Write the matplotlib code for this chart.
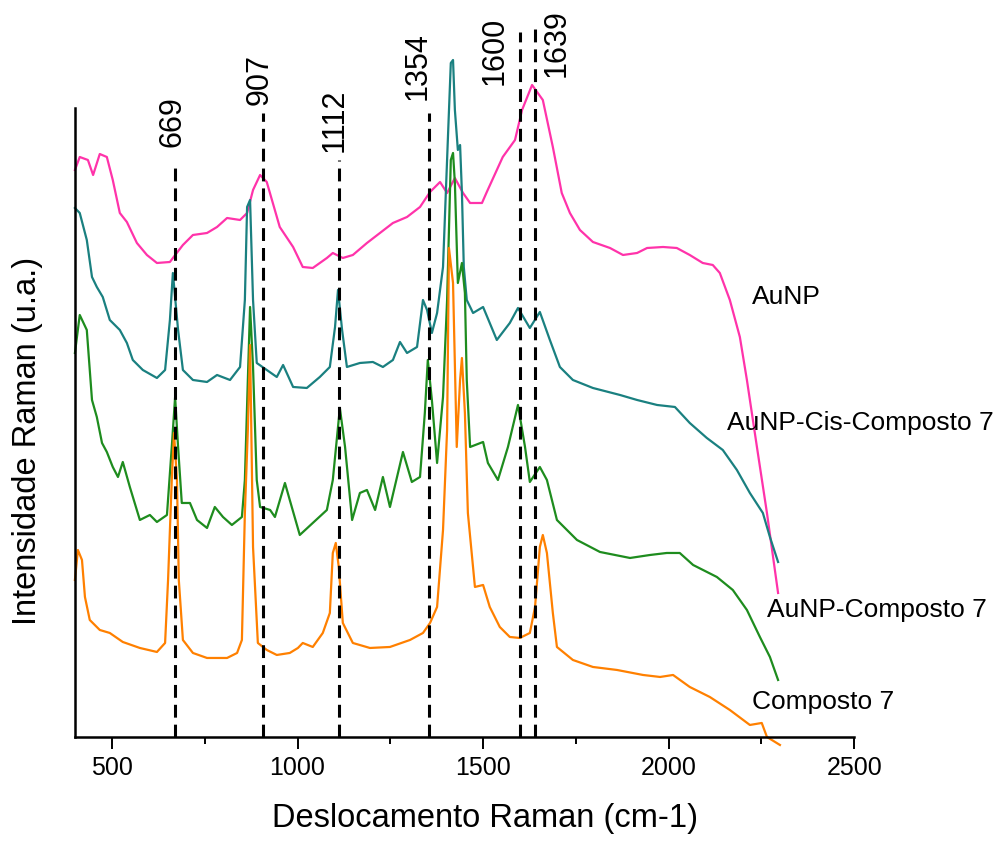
import matplotlib.pyplot as plt

plt.rcParams["font.family"] = ["Liberation Sans", "DejaVu Sans"]

# Raman spectra (x in cm-1, intensity in arbitrary units, already offset)
aunp_x = [400, 413, 435, 449, 467, 486, 502, 521, 540, 567, 594, 621, 656, 664, 691,
          718, 756, 783, 810, 845, 864, 880, 899, 917, 952, 988, 1014, 1041, 1079, 1095,
          1122, 1149, 1187, 1222, 1257, 1295, 1330, 1357, 1384, 1403, 1424, 1446, 1465,
          1497, 1510, 1553, 1586, 1605, 1632, 1661, 1688, 1712, 1734, 1761, 1796, 1842,
          1877, 1915, 1942, 1985, 2022, 2057, 2092, 2119, 2138, 2165, 2192, 2211, 2238,
          2265, 2295]
aunp_y = [567, 580, 577, 562, 583, 580, 557, 524, 515, 494, 482, 474, 475, 479, 492,
          502, 504, 510, 519, 517, 524, 547, 562, 555, 510, 490, 470, 469, 479, 484,
          479, 482, 494, 504, 514, 520, 530, 545, 555, 544, 559, 544, 534,
          534, 545, 580, 597, 627, 652, 637, 590, 544, 524, 507, 495, 489,
          482, 484, 489, 490, 489, 482, 474, 472, 464, 437, 400, 357, 290,
          224, 144]

cis_x = [400, 413, 432, 446, 459, 475, 494, 521, 540, 556, 583, 621, 643, 656, 664,
         678, 691, 718, 756, 783, 818, 845, 858, 864, 872, 880, 890, 917, 944, 961,
         988, 1025, 1060, 1087, 1101, 1109, 1120, 1133, 1168, 1203, 1230, 1257, 1276,
         1295, 1322, 1338, 1349, 1362, 1376, 1392, 1405, 1413, 1419, 1424, 1432, 1438,
         1443, 1448, 1456, 1473, 1500, 1537, 1572, 1594, 1626, 1653, 1680, 1707, 1742,
         1796, 1869, 1915, 1969, 2017, 2057, 2103, 2146, 2184, 2219, 2254, 2273, 2295]
cis_y = [529, 524, 497, 460, 450, 440, 417, 407, 394, 377, 367, 359, 367, 417, 464,
         407, 367, 357, 355, 362, 357, 370, 437, 530, 537, 437, 374, 367, 360, 372,
         350, 349, 360, 370, 410, 447, 407, 370, 374, 375, 370, 377, 395,
         384, 390, 437, 427, 404, 424, 470, 597, 674, 677, 627, 587, 592,
         544, 470, 437, 424, 430, 397, 414, 429, 409, 425, 397, 370, 357,
         349, 342, 337, 332, 330, 314, 299, 287, 267, 244, 224, 200, 175]

comp_np_x = [400, 413, 432, 446, 459, 473, 486, 502, 516, 529, 548, 575, 602, 621, 648,
             661, 670, 678, 688, 710, 729, 756, 777, 799, 823, 850, 858, 866, 872, 880,
             890, 899, 926, 939, 966, 979, 1006, 1041, 1079, 1095, 1114, 1128, 1147,
             1168, 1187, 1209, 1230, 1249, 1284, 1308, 1330, 1343, 1351, 1362, 1376,
             1392, 1403, 1413, 1419, 1424, 1432, 1443, 1451, 1456, 1465, 1500, 1513,
             1540, 1567, 1594, 1613, 1626, 1653, 1672, 1699, 1753, 1815, 1896, 1950,
             1995, 2030, 2066, 2130, 2173, 2211, 2246, 2273, 2295]
comp_np_y = [384, 422, 407, 337, 320, 294, 285, 270, 260, 275, 250, 217, 222, 215, 222,
             290, 340, 290, 234, 234, 217, 209, 230, 220, 212, 220, 257, 357, 430, 370,
             257, 230, 227, 220, 254, 237, 202, 214, 227, 257, 329, 290, 217,
             244, 247, 227, 260, 230, 285, 255, 260, 324, 377, 337, 274,
             340, 437, 577, 584, 554, 454, 474, 444, 357, 290, 295, 274,
             257, 290, 332, 290, 255, 270, 257, 217, 197, 185, 179, 182,
             184, 184, 172, 160, 147, 127, 100, 80, 57]

comp_x = [400, 408, 419, 427, 440, 467, 494, 529, 575, 621, 643, 651, 661, 667, 675,
          680, 691, 718, 756, 810, 837, 850, 858, 866, 872, 880, 893, 917, 944, 979,
          1001, 1014, 1041, 1068, 1087, 1095, 1103, 1111, 1122, 1149, 1195, 1249, 1303,
          1338, 1357, 1376, 1392, 1403, 1408, 1419, 1429, 1438, 1443, 1451, 1459, 1478,
          1500, 1518, 1545, 1572, 1599, 1626, 1640, 1653, 1661, 1672, 1688, 1699, 1742,
          1796, 1861, 1931, 1977, 2012, 2057, 2111, 2165, 2219, 2251, 2265, 2300]
comp_y = [157, 187, 177, 140, 117, 107, 104, 95, 89, 85, 94, 157, 257, 304, 257,
          157, 97, 84, 79, 79, 84, 97, 224, 307, 392, 190, 94, 87, 82, 84,
          89, 94, 90, 104, 124, 184, 194, 170, 114, 94, 89, 90, 97,
          104, 114, 130, 207, 307, 489, 454, 290, 357, 379, 324, 224, 150,
          152, 130, 110, 100, 99, 104, 130, 190, 202, 184, 124, 90, 77,
          70, 67, 62, 60, 62, 50, 40, 27, 12, 14, 0, -8]

peaks = [669, 907, 1112, 1354, 1600, 1639]
peak_labels = ["669", "907", "1112", "1354", "1600", "1639"]

series_names = ["AuNP", "AuNP-Cis-Composto 7", "AuNP-Composto 7", "Composto 7"]

# layout of annotations
line_tops = [575, 624, 577, 624, 705, 714]
label_x = [664, 899, 1101, 1324, 1532, 1699]
label_y = [590, 632, 585, 637, 652, 660]
name_x = [2225, 2157, 2265, 2225]
name_y = [440, 314, 127, 35]

fig = plt.figure(figsize=(9.99, 8.41), dpi=100)
ax = fig.add_axes([0.075, 0.1237, 0.780, 0.8763])

ax.plot(aunp_x, aunp_y, color="#FF33AA", lw=1.6, clip_on=False)
ax.plot(cis_x, cis_y, color="#1A8080", lw=1.6, clip_on=False)
ax.plot(comp_np_x, comp_np_y, color="#1E8C1E", lw=1.6, clip_on=False)
ax.plot(comp_x, comp_y, color="#FF8000", lw=1.6, clip_on=False)

for p, top, lx, ly, lab in zip(peaks, line_tops, label_x, label_y, peak_labels):
    ax.plot([p, p], [0, top], color="black", lw=2.2, dashes=(4.2, 2.3))
    ax.text(lx, ly, lab, rotation=90, ha="center", va="bottom", fontsize=22)

for nx, ny, name in zip(name_x, name_y, series_names):
    ax.text(nx, ny, name, ha="left", va="center", fontsize=19)

ax.set_xlim(400, 2500)
ax.set_ylim(0, 737)
ax.spines["top"].set_visible(False)
ax.spines["right"].set_visible(False)
ax.spines["left"].set_bounds(0, 629)
ax.spines["left"].set_linewidth(1.8)
ax.spines["bottom"].set_linewidth(1.8)
ax.set_yticks([])
ax.set_xticks([500, 1000, 1500, 2000, 2500])
ax.set_xticks([750, 1250, 1750, 2250], minor=True)
ax.tick_params(axis="x", which="major", length=8.5, width=1.4, labelsize=18, pad=5)
ax.tick_params(axis="x", which="minor", length=5, width=1.4)
ax.patch.set_visible(False)

fig.text(0.028, 0.476, "Intensidade Raman (u.a.)", rotation=90, ha="center",
         va="center", fontsize=23.5)
fig.text(0.485, 0.027, "Deslocamento Raman (cm-1)", ha="center", va="center",
         fontsize=23.5)

plt.savefig("out.png", dpi=100)
plt.close()
